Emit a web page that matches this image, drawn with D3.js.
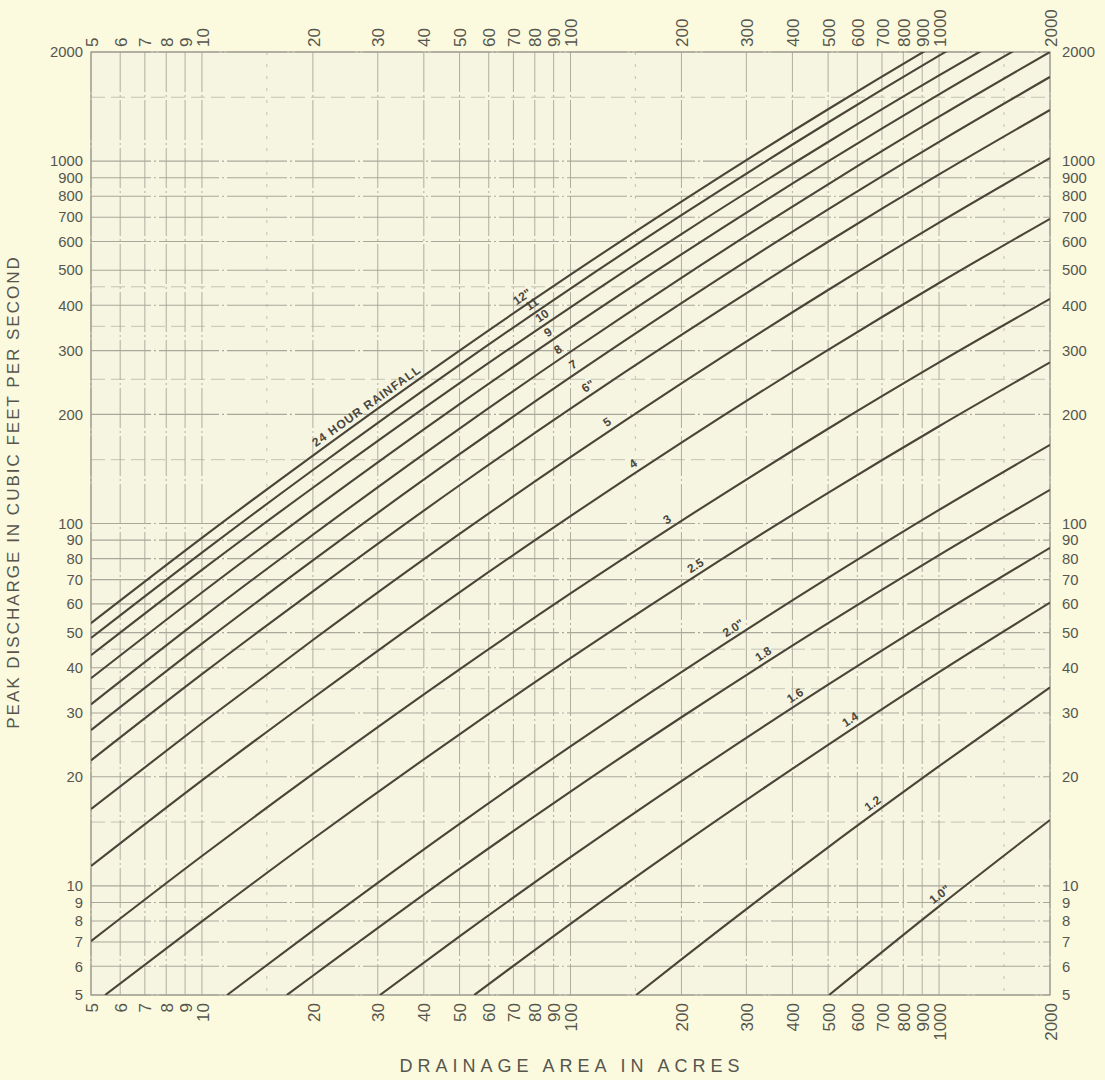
<!DOCTYPE html>
<html><head><meta charset="utf-8">
<script src="https://cdn.jsdelivr.net/npm/d3@7"></script>
<style>
html,body{margin:0;padding:0;background:#fbfadf;}
svg{display:block;}
</style></head><body>
<svg id="chart" width="1105" height="1080"></svg>
<script>
// ---------- data ----------
const xTickLabels = [5,6,7,8,9,10,20,30,40,50,60,70,80,90,100,200,300,400,500,600,700,800,900,1000,2000];
const yTickLabels = [5,6,7,8,9,10,20,30,40,50,60,70,80,90,100,200,300,400,500,600,700,800,900,1000,2000];
const minorY = [15,25,35,45,150,250,350,450,1500];
const minorX = [15,150,1500];

const rainfallLabels = ['12"','11','10','9','8','7','6"','5','4','3','2.5','2.0"','1.8','1.6','1.4','1.2','1.0"'];
// [drainage area (acres), peak discharge (cfs)]
const R12  = [[5,53.1],[10,91.3],[20,154],[50,300],[100,486],[200,773],[500,1390],[1000,2122],[2000,3183]];
const R11  = [[5,48.3],[10,83.1],[20,140.5],[50,274],[100,445],[200,709],[500,1278],[1000,1954],[2000,2936]];
const R10  = [[5,43.3],[10,74.5],[20,125.5],[50,244],[100,395],[200,629],[500,1129],[1000,1723],[2000,2582]];
const R9   = [[5,37.4],[10,64.5],[20,109.2],[50,213.5],[100,347],[200,553],[500,998],[1000,1528],[2000,2299]];
const R8   = [[5,31.7],[10,54.9],[20,93.1],[50,182.8],[100,297.8],[200,476.5],[500,863],[1000,1326],[2000,2000]];
const R7   = [[5,26.9],[10,46.6],[20,79.1],[50,155.3],[100,253.3],[200,405.5],[500,735.6],[1000,1130],[2000,1707]];
const R6   = [[5,22.2],[10,38.4],[20,65.0],[50,127.5],[100,207.4],[200,331.3],[500,599],[1000,918.6],[2000,1384]];
const R5   = [[5,16.3],[10,28.1],[20,47.7],[50,93.6],[100,152.4],[200,243.6],[500,440.9],[1000,676.5],[2000,1020]];
const R4   = [[5,11.34],[10,19.55],[20,33.0],[50,64.6],[100,104.8],[200,167.1],[500,301.3],[1000,461],[2000,693]];
const R3   = [[5,7.04],[10,12.09],[20,20.37],[50,39.6],[100,64.1],[200,101.7],[500,182.6],[1000,278.3],[2000,416.9]];
const R2_5 = [[5.46,5],[10,7.98],[20,13.47],[50,26.2],[100,42.5],[200,67.6],[500,121.5],[1000,185.5],[2000,278.3]];
const R2_0 = [[11.7,5],[20,7.53],[50,14.84],[100,24.26],[200,38.9],[500,70.75],[1000,109],[2000,164.8]];
const R1_8 = [[17,5],[20,5.65],[50,11.14],[100,18.21],[200,29.2],[500,53.1],[1000,81.8],[2000,123.8]];
const R1_6 = [[30.4,5],[50,7.26],[100,12.0],[200,19.46],[500,35.9],[1000,55.96],[2000,85.7]];
const R1_4 = [[54.8,5],[100,7.86],[200,12.98],[500,24.5],[1000,38.9],[2000,60.5]];
const R1_2 = [[150.7,5],[200,6.27],[500,12.78],[1000,21.4],[2000,35.3]];
const R1_0 = [[503,5],[1000,8.78],[2000,15.2]];
const curves = [R12,R11,R10,R9,R8,R7,R6,R5,R4,R3,R2_5,R2_0,R1_8,R1_6,R1_4,R1_2,R1_0];
// area (acres) at which each curve label sits
const labelArea = [76.3,81.2,86.4,89.7,95.5,104.9,115.1,129.6,152.5,188.6,224.8,285,343.8,419.7,592,683,1039];
const titleArea = 28.9;

// ---------- layout ----------
const W = 1105, H = 1080;
const L = 91, R = 1050, T = 52, B = 995;
const svg = d3.select('#chart');
const x = d3.scaleLog().domain([5,2000]).range([L,R]);
const y = d3.scaleLog().domain([5,2000]).range([B,T]);
const fontFam = '"Liberation Sans", Arial, sans-serif';
const textCol = '#56564e';

svg.append('rect').attr('width',W).attr('height',H).attr('fill','#fbfadf');
svg.append('rect').attr('x',L).attr('y',T).attr('width',R-L).attr('height',B-T).attr('fill','#f6f5e2');

svg.append('defs').append('clipPath').attr('id','plotclip')
  .append('rect').attr('x',L).attr('y',T).attr('width',R-L).attr('height',B-T);

// grid
const grid = svg.append('g');
grid.selectAll('.mx').data(minorX).join('line')
  .attr('x1',d=>x(d)).attr('x2',d=>x(d)).attr('y1',T).attr('y2',B)
  .attr('stroke','#c4c3b4').attr('stroke-width',1).attr('stroke-dasharray','3,9');
grid.selectAll('.my').data(minorY).join('line')
  .attr('y1',d=>y(d)).attr('y2',d=>y(d)).attr('x1',L).attr('x2',R)
  .attr('stroke','#c4c3b4').attr('stroke-width',1).attr('stroke-dasharray','14,6');
grid.selectAll('.gx').data(xTickLabels).join('line')
  .attr('x1',d=>x(d)).attr('x2',d=>x(d)).attr('y1',T).attr('y2',B)
  .attr('stroke','#aeada0').attr('stroke-width',1).attr('stroke-dasharray','40,3,2,3');
grid.selectAll('.gy').data(yTickLabels).join('line')
  .attr('y1',d=>y(d)).attr('y2',d=>y(d)).attr('x1',L).attr('x2',R)
  .attr('stroke','#a9a89b').attr('stroke-width',1.1).attr('stroke-dasharray','60,3,2,3');
svg.append('rect').attr('x',L).attr('y',T).attr('width',R-L).attr('height',B-T)
  .attr('fill','none').attr('stroke','#9c9b8e').attr('stroke-width',1.2);

// axes (labels only)
const axL = d3.axisLeft(y).tickValues(yTickLabels).tickFormat(d3.format('d')).tickSize(0).tickPadding(8);
const axR = d3.axisRight(y).tickValues(yTickLabels).tickFormat(d3.format('d')).tickSize(0).tickPadding(12);
const axB = d3.axisBottom(x).tickValues(xTickLabels).tickFormat(d3.format('d')).tickSize(0);
const axT = d3.axisTop(x).tickValues(xTickLabels).tickFormat(d3.format('d')).tickSize(0);
function styleAxis(g, size){
  g.select('.domain').remove();
  g.selectAll('text').attr('fill',textCol).style('font-family',fontFam).style('font-size',size);
}
svg.append('g').attr('transform',`translate(${L},0)`).call(axL).call(styleAxis,'14.8px');
svg.append('g').attr('transform',`translate(${R},0)`).call(axR).call(styleAxis,'14.8px')
  .selectAll('text').attr('text-anchor','start');
const gb = svg.append('g').attr('transform',`translate(0,${B})`).call(axB).call(styleAxis,'17px');
gb.selectAll('.tick text').attr('transform','rotate(-90)').attr('text-anchor','end')
  .attr('x',-8).attr('y',0).attr('dy','0.36em');
const gt = svg.append('g').attr('transform',`translate(0,${T})`).call(axT).call(styleAxis,'17px');
gt.selectAll('.tick text').attr('transform','rotate(-90)').attr('text-anchor','start')
  .attr('x',5).attr('y',0).attr('dy','0.36em');

// curves
const line = d3.line().x(d=>x(d[0])).y(d=>y(d[1])).curve(d3.curveMonotoneX);
const cg = svg.append('g').attr('clip-path','url(#plotclip)');
cg.selectAll('path.curve').data(curves).join('path')
  .attr('class','curve').attr('d',line)
  .attr('fill','none').attr('stroke','#4b4438').attr('stroke-width',2.1);

// label placement along curves
function posOn(pts, a){
  const la = Math.log10(a);
  for(let i=0;i<pts.length-1;i++){
    const a0=Math.log10(pts[i][0]), a1=Math.log10(pts[i+1][0]);
    if(la>=a0 && la<=a1){
      const t=(la-a0)/(a1-a0);
      const q=Math.pow(10, Math.log10(pts[i][1])+t*(Math.log10(pts[i+1][1])-Math.log10(pts[i][1])));
      const dx=x(pts[i+1][0])-x(pts[i][0]), dy=y(pts[i+1][1])-y(pts[i][1]);
      return {px:x(a), py:y(q), ang:Math.atan2(dy,dx)*180/Math.PI};
    }
  }
  return null;
}
const lg = svg.append('g');
curves.forEach((pts,i)=>{
  const p = posOn(pts, labelArea[i]);
  if(!p) return;
  lg.append('text').attr('transform',`translate(${p.px},${p.py}) rotate(${p.ang})`)
    .attr('text-anchor','middle').attr('dy',-5)
    .style('font-family',fontFam).style('font-size','12px').style('font-weight','bold')
    .attr('fill','#4a463c').text(rainfallLabels[i]);
});
{
  const p = posOn(R12, titleArea);
  lg.append('text').attr('transform',`translate(${p.px},${p.py}) rotate(${p.ang})`)
    .attr('text-anchor','middle').attr('dy',-5)
    .style('font-family',fontFam).style('font-size','12px').style('font-weight','bold')
    .style('letter-spacing','1px').attr('fill','#4a463c').text('24 HOUR RAINFALL');
}

// axis titles
svg.append('text').attr('transform','translate(19,492) rotate(-90)')
  .attr('text-anchor','middle').style('font-family',fontFam).style('font-size','17px')
  .style('letter-spacing','2px').attr('fill',textCol)
  .text('PEAK DISCHARGE IN CUBIC FEET PER SECOND');
svg.append('text').attr('x',572).attr('y',1072)
  .attr('text-anchor','middle').style('font-family',fontFam).style('font-size','18px')
  .style('letter-spacing','5px').attr('fill',textCol)
  .text('DRAINAGE AREA IN ACRES');
</script>
</body></html>
